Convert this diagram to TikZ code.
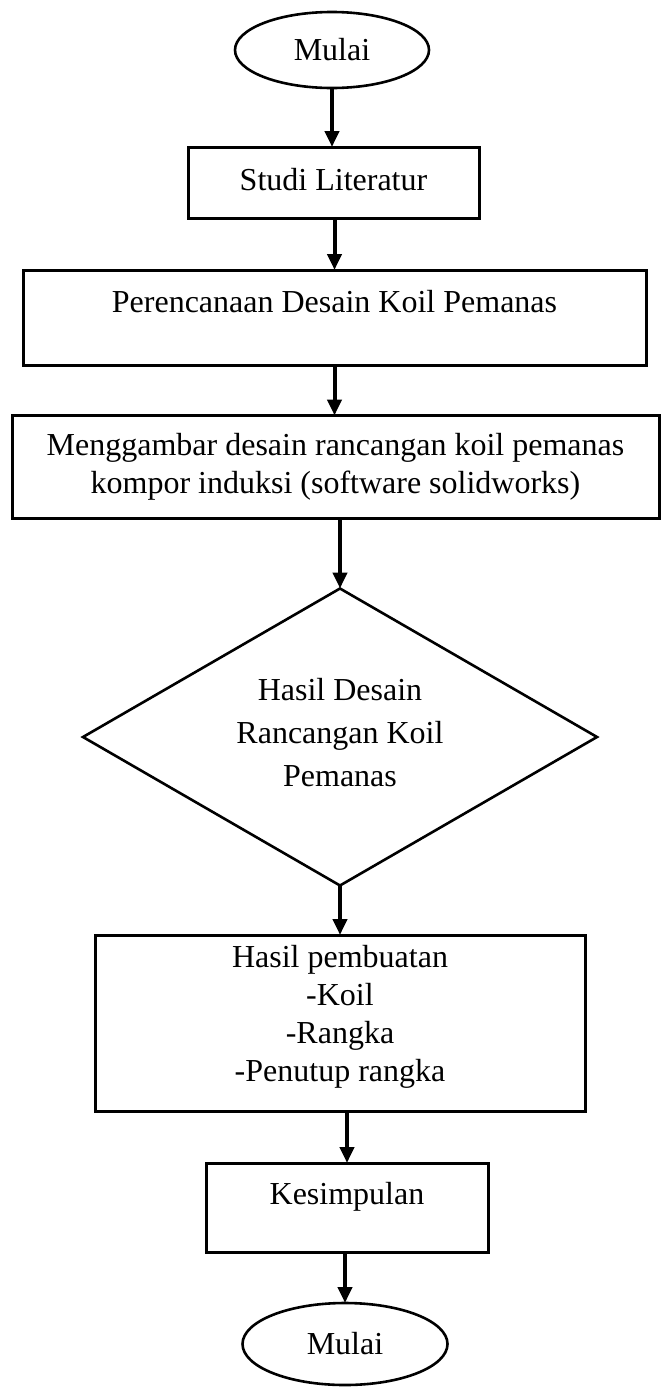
\documentclass[tikz,border=0pt]{standalone}
\usepackage{fontspec}
\setmainfont{Liberation Serif}
\usetikzlibrary{shapes.geometric,arrows.meta}
\begin{document}
\begin{tikzpicture}[x=0.5pt,y=-0.5pt,
  every node/.style={font=\fontsize{16}{19}\selectfont, inner sep=0pt, outer sep=0pt},
  boxnode/.style={draw, line width=1.5pt, rectangle},
  ovalnode/.style={draw, ellipse, line width=1.3pt},
  decision/.style={draw, diamond, line width=1.3pt},
  txt/.style={align=center},
  flow/.style={line width=2pt, -{Triangle[width=7pt,length=8pt]}},
]
\useasboundingbox (0,0) rectangle (660,1387);
\node[ovalnode, minimum width=97pt, minimum height=38pt] (start) at (332,50) {Mulai};
\node[boxnode, minimum width=145.5pt, minimum height=35.5pt] (b1) at (333.5,182.5) {};
\node[txt] (t1) at (333.5,180) {Studi Literatur};
\node[boxnode, minimum width=311.5pt, minimum height=47.5pt] (b2) at (334.5,317.5) {};
\node[txt] (t2) at (334.5,302) {Perencanaan Desain Koil Pemanas};
\node[boxnode, minimum width=323.5pt, minimum height=51.5pt] (b3) at (335.5,467) {};
\node[txt] (t3) at (335.5,467) {Menggambar desain rancangan koil pemanas\\kompor induksi (software solidworks)};
\node[decision, minimum width=257pt, minimum height=148.5pt] (d) at (340,737) {};
\node[txt, font=\fontsize{16}{21.5}\selectfont] (td) at (340,733) {Hasil Desain\\Rancangan Koil\\Pemanas};
\node[boxnode, minimum width=245pt, minimum height=88pt] (b4) at (340,1023) {};
\node[txt] (t4) at (340,1017) {Hasil pembuatan\\-Koil\\-Rangka\\-Penutup rangka};
\node[boxnode, minimum width=141pt, minimum height=44.5pt] (b5) at (347,1207.5) {};
\node[txt] (t5) at (347,1197) {Kesimpulan};
\node[ovalnode, minimum width=102.5pt, minimum height=41pt] (stop) at (345,1344) {Mulai};
\draw[flow] (start.south) -- (start.south |- b1.north);
\draw[flow] (b2.north |- b1.south) -- (b2.north);
\draw[flow] (b2.south) -- (b2.south |- b3.north);
\draw[flow] (d.north |- b3.south) -- (d.north);
\draw[flow] (d.south) -- (d.south |- b4.north);
\draw[flow] (b5.north |- b4.south) -- (b5.north);
\draw[flow] (stop.north |- b5.south) -- (stop.north);
\end{tikzpicture}
\end{document}
